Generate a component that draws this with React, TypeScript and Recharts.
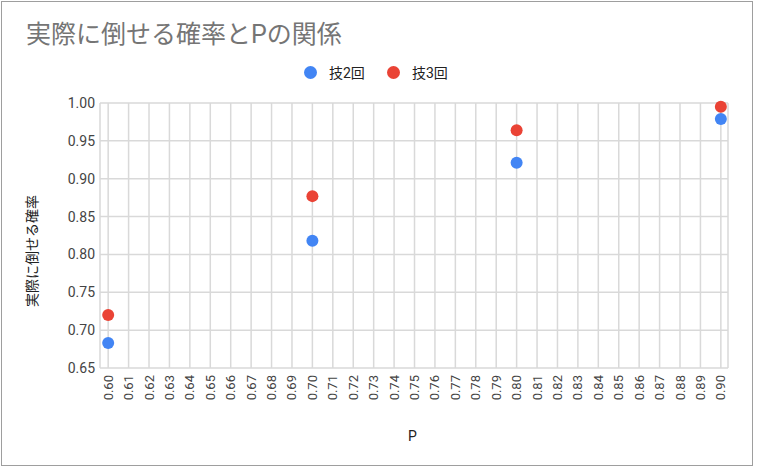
import { ScatterChart, Scatter, XAxis, YAxis, CartesianGrid } from "recharts";

const pValues = [0.6, 0.7, 0.8, 0.9];
const skill2 = [0.683, 0.818, 0.921, 0.979];
const skill3 = [0.72, 0.877, 0.964, 0.995];
const seriesNames = ["技2回", "技3回"];
const seriesColors = ["#4285F4", "#EA4335"];
const xTicks = [
  0.6, 0.61, 0.62, 0.63, 0.64, 0.65, 0.66, 0.67, 0.68, 0.69, 0.7, 0.71, 0.72,
  0.73, 0.74, 0.75, 0.76, 0.77, 0.78, 0.79, 0.8, 0.81, 0.82, 0.83, 0.84, 0.85,
  0.86, 0.87, 0.88, 0.89, 0.9,
];
const yTicks = [0.65, 0.7, 0.75, 0.8, 0.85, 0.9, 0.95, 1.0];

const FONT = "Roboto, 'Noto Sans CJK JP', sans-serif";

const data2 = pValues.map((p, i) => ({ p, v: skill2[i] }));
const data3 = pValues.map((p, i) => ({ p, v: skill3[i] }));

const Dot = (color: string) => (props: any) =>
  <circle cx={props.cx} cy={props.cy} r={6} fill={color} />;

const XTick = ({ x, y, payload }: any) => (
  <text
    x={x}
    y={y}
    transform={`rotate(-90 ${x} ${y})`}
    textAnchor="end"
    dominantBaseline="central"
    fontSize={13}
    fill="#444"
    fontFamily={FONT}
  >
    {Number(payload.value).toFixed(2)}
  </text>
);

export default function App() {
  return (
    <div
      style={{
        position: "fixed",
        left: 0,
        top: 0,
        width: 758,
        height: 470,
        background: "#fff",
        fontFamily: FONT,
      }}
    >
      <div
        style={{
          position: "absolute",
          left: 1,
          top: 1,
          width: 750,
          height: 463,
          border: "1px solid #9e9e9e",
        }}
      />
      <div style={{ position: "absolute", left: 26, top: 20, fontSize: 25, color: "#757575", lineHeight: "30px" }}>
        実際に倒せる確率とPの関係
      </div>
      {seriesNames.map((name, i) => (
        <div
          key={name}
          style={{
            position: "absolute",
            left: 304 + i * 83,
            top: 63,
            height: 18,
            display: "flex",
            alignItems: "center",
            fontSize: 14,
            color: "#222",
          }}
        >
          <span
            style={{
              display: "inline-block",
              width: 13,
              height: 13,
              borderRadius: "50%",
              background: seriesColors[i],
              marginRight: 12,
            }}
          />
          {name}
        </div>
      ))}
      <div
        style={{
          position: "absolute",
          left: 31,
          top: 251,
          transform: "translate(-50%, -50%) rotate(-90deg)",
          fontSize: 14,
          color: "#222",
          whiteSpace: "nowrap",
        }}
      >
        実際に倒せる確率
      </div>
      <div style={{ position: "absolute", left: 408, top: 428, fontSize: 14, color: "#222" }}>P</div>
      <div style={{ position: "absolute", left: 0, top: 0 }}>
        <ScatterChart width={758} height={470} margin={{ top: 103, right: 30, bottom: 42, left: 0 }}>
          <CartesianGrid stroke="#d9d9d9" strokeWidth={1.5} />
          <XAxis
            type="number"
            dataKey="p"
            domain={[0.596, 0.9035]}
            ticks={xTicks}
            interval={0}
            height={60}
            axisLine={false}
            tickLine={false}
            tickSize={0}
            tickMargin={7}
            tick={<XTick />}
          />
          <YAxis
            type="number"
            dataKey="v"
            domain={[0.65, 1.0]}
            ticks={yTicks}
            interval={0}
            width={100}
            axisLine={false}
            tickLine={false}
            tickSize={0}
            tickMargin={5}
            tickFormatter={(v: number) => v.toFixed(2)}
            tick={{ fontSize: 14, fill: "#444", fontFamily: FONT }}
          />
          <Scatter name={seriesNames[0]} data={data2} shape={Dot(seriesColors[0])} isAnimationActive={false} />
          <Scatter name={seriesNames[1]} data={data3} shape={Dot(seriesColors[1])} isAnimationActive={false} />
        </ScatterChart>
      </div>
    </div>
  );
}
